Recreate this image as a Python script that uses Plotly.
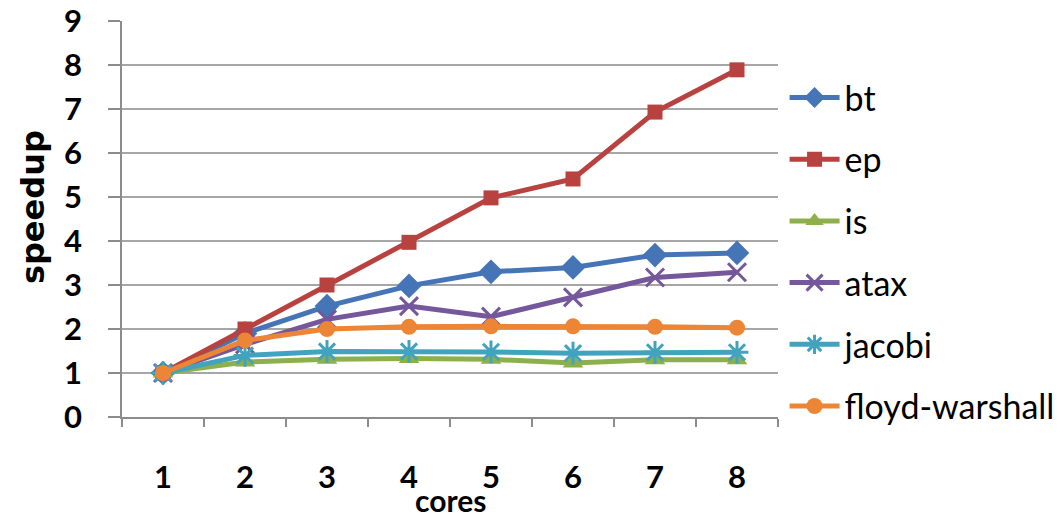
import plotly.graph_objects as go

cores = ["1", "2", "3", "4", "5", "6", "7", "8"]
bt = [1.0, 1.9, 2.52, 2.98, 3.30, 3.40, 3.68, 3.73]
ep = [1.0, 2.0, 3.0, 3.97, 4.98, 5.41, 6.93, 7.89]
is_ = [1.0, 1.25, 1.31, 1.33, 1.31, 1.23, 1.30, 1.30]
atax = [1.0, 1.65, 2.22, 2.52, 2.28, 2.72, 3.17, 3.29]
jacobi = [1.0, 1.40, 1.49, 1.49, 1.48, 1.45, 1.47, 1.47]
floyd = [1.0, 1.74, 2.0, 2.05, 2.06, 2.06, 2.05, 2.03]

series = [
    ("bt", bt, "#4575B6", "diamond", 19, None),
    ("ep", ep, "#B8423F", "square", 15, None),
    ("is", is_, "#8DAF4C", "triangle-up", 18, None),
    ("atax", atax, "#75579B", "x-thin-open", 18, 3),
    ("jacobi", jacobi, "#41A3BE", "asterisk-open", 19, 3),
    ("floyd-warshall", floyd, "#EC8535", "circle", 16, None),
]

FONT = "Lato, Open Sans, sans-serif"

fig = go.Figure()
for i, (name, vals, color, sym, size, lw) in enumerate(series):
    marker = dict(symbol=sym, size=size, color=color,
                  line=dict(color=color, width=lw if lw else 0))
    fig.add_trace(go.Scatter(
        x=cores, y=vals, name=name, mode="lines+markers",
        line=dict(color=color, width=5),
        marker=marker, legendgroup=f"g{i}",
    ))

fig.update_layout(
    width=1063, height=517,
    margin=dict(l=122, r=285, t=21, b=100, autoexpand=False),
    plot_bgcolor="white", paper_bgcolor="white",
    font=dict(family=FONT, color="black"),
    showlegend=True,
    legend=dict(
        x=1.01, y=0.879, xanchor="left", yanchor="top",
        font=dict(size=34, family=FONT),
        tracegroupgap=14.5, traceorder="grouped",
        itemwidth=50,
        bgcolor="rgba(0,0,0,0)",
    ),
    xaxis=dict(
        type="category", range=[-0.5, 7.5], automargin=False,
        tickson="boundaries", ticks="outside", ticklen=8, tickcolor="#8C8C8C",
        tickwidth=1.5,
        showline=True, linecolor="#8C8C8C", linewidth=1.5,
        showgrid=False,
        tickfont=dict(size=31, family=FONT, weight="bold"),
        ticklabelstandoff=32,
    ),
    yaxis=dict(
        range=[0, 9], dtick=1, tick0=0, automargin=False,
        ticks="outside", ticklen=12, tickcolor="#8C8C8C", tickwidth=1.5,
        showline=True, linecolor="#8C8C8C", linewidth=1.5,
        showgrid=True, gridcolor="#A6A6A6", gridwidth=1.5,
        zeroline=False,
        tickfont=dict(size=31, family=FONT, weight="bold"),
        ticklabelstandoff=20,
    ),
    annotations=[
        dict(
            text="<b>cores</b>", xref="paper", yref="paper", x=0.5, y=-0.21,
            xanchor="center", yanchor="middle", showarrow=False,
            font=dict(size=30, family=FONT, color="black"),
        ),
        dict(
            text="<b>speedup</b>", xref="paper", yref="paper", x=-0.1357, y=0.53,
            xanchor="center", yanchor="middle", showarrow=False, textangle=-90,
            font=dict(size=32, family="DejaVu Sans", color="black"),
        ),
    ],
)

fig.write_html(
    "out.html",
    config={"displayModeBar": False},
    post_script="document.body.style.margin='0';",
)
